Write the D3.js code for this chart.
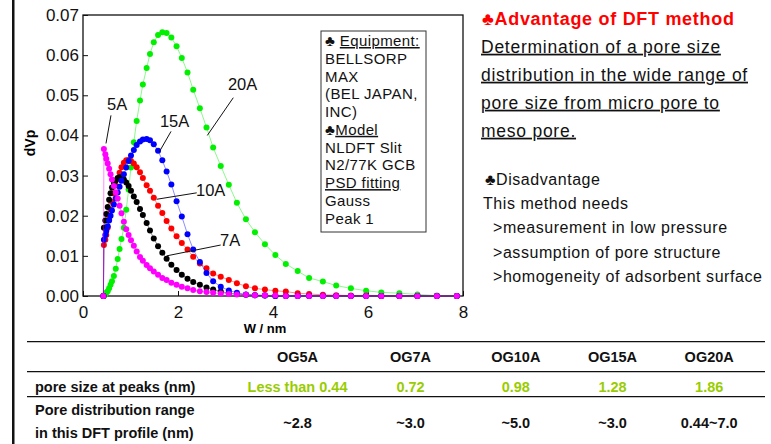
<!DOCTYPE html>
<html>
<head>
<meta charset="utf-8">
<script src="https://cdn.jsdelivr.net/npm/d3@7"></script>
<style>
body { margin: 0; background: #fff; }
svg { display: block; font-family: "Liberation Sans", Arial, sans-serif; }
</style>
</head>
<body>
<svg id="chart"></svg>
<script>
const svgWidth = 771;
const svgHeight = 444;

// pore width grid (nm), shared by all samples
const poreWidth = [0.43, 0.44, 0.47, 0.49, 0.52, 0.55, 0.58, 0.61, 0.65, 0.69, 0.73, 0.77, 0.81, 0.86, 0.91, 0.96,
	1.01, 1.07, 1.13, 1.20, 1.26, 1.34, 1.41, 1.49, 1.58, 1.67, 1.76, 1.86, 1.97, 2.08, 2.20, 2.32, 2.46, 2.60,
	2.74, 2.90, 3.07, 3.24, 3.43, 3.62, 3.83, 4.05, 4.27, 4.52, 4.76, 5.05, 5.33, 5.64, 5.96, 6.28, 6.66, 7.04, 7.45, 7.87];

// dVp for each sample
const og20A = [0, 0.0000, 0.0004, 0.0008, 0.0012, 0.0019, 0.0028, 0.0037, 0.0050, 0.0068, 0.0092, 0.0117, 0.0142, 0.0170,
	0.0215, 0.0265, 0.0320, 0.0383, 0.0436, 0.0487, 0.0527, 0.0568, 0.0603, 0.0632, 0.0650, 0.0657, 0.0655, 0.0644,
	0.0622, 0.0593, 0.0557, 0.0514, 0.0468, 0.0420, 0.0370, 0.0324, 0.0277, 0.0232, 0.0191, 0.0159, 0.0129, 0.0102,
	0.0080, 0.0062, 0.0045, 0.0036, 0.0026, 0.0019, 0.0013, 0.0009, 0.0007, 0.0004, 0.0001, 0.0000];
const og15A = [0, 0.0140, 0.0152, 0.0162, 0.0174, 0.0188, 0.0200, 0.0213, 0.0228, 0.0243, 0.0258, 0.0272, 0.0287, 0.0303,
	0.0320, 0.0336, 0.0350, 0.0364, 0.0376, 0.0385, 0.0390, 0.0391, 0.0388, 0.0378, 0.0362, 0.0338, 0.0310, 0.0278,
	0.0236, 0.0198, 0.0154, 0.0116, 0.0085, 0.0057, 0.0037, 0.0023, 0.0014, 0.0008, 0.0004, 0.0002, 0.0001, 0,
	0, 0, 0, 0, 0, 0, 0, 0, 0, 0, 0, 0];
const og10A = [0, 0.0127, 0.0140, 0.0152, 0.0170, 0.0192, 0.0215, 0.0234, 0.0256, 0.0275, 0.0292, 0.0307, 0.0321, 0.0332,
	0.0338, 0.0339, 0.0336, 0.0330, 0.0321, 0.0308, 0.0294, 0.0276, 0.0262, 0.0245, 0.0225, 0.0207, 0.0187, 0.0168,
	0.0149, 0.0132, 0.0116, 0.0098, 0.0081, 0.0069, 0.0056, 0.0048, 0.0040, 0.0032, 0.0024, 0.0019, 0.0016, 0.0013,
	0.0011, 0.0007, 0.0005, 0.0003, 0.0002, 0.0001, 0.0001, 0, 0, 0, 0, 0];
const og7A = [0, 0.0170, 0.0188, 0.0204, 0.0222, 0.0240, 0.0256, 0.0270, 0.0282, 0.0288, 0.0294, 0.0296, 0.0295, 0.0290,
	0.0283, 0.0274, 0.0262, 0.0248, 0.0234, 0.0217, 0.0202, 0.0182, 0.0163, 0.0143, 0.0124, 0.0108, 0.0093, 0.0078,
	0.0065, 0.0053, 0.0043, 0.0035, 0.0028, 0.0021, 0.0016, 0.0011, 0.0007, 0.0005, 0.0003, 0.0002, 0.0001, 0,
	0, 0, 0, 0, 0, 0, 0, 0, 0, 0, 0, 0];
const og5A = [0, 0.0366, 0.0353, 0.0342, 0.0330, 0.0317, 0.0303, 0.0290, 0.0274, 0.0258, 0.0243, 0.0225, 0.0206, 0.0185,
	0.0166, 0.0152, 0.0139, 0.0125, 0.0111, 0.0097, 0.0088, 0.0077, 0.0069, 0.0061, 0.0053, 0.0045, 0.0040, 0.0033,
	0.0028, 0.0023, 0.0019, 0.0015, 0.0012, 0.0010, 0.0008, 0.0006, 0.0005, 0.0004, 0.0003, 0.0002, 0.0002, 0.0001,
	0, 0, 0, 0, 0, 0, 0, 0, 0, 0, 0, 0];

const xTicks = [0, 2, 4, 6, 8];
const yTicks = [0, 0.01, 0.02, 0.03, 0.04, 0.05, 0.06, 0.07];

// series in drawing order
const series = [
	{name: "20A", values: og20A, color: "#00f000"},
	{name: "10A", values: og10A, color: "#ff0000"},
	{name: "7A", values: og7A, color: "#000000"},
	{name: "15A", values: og15A, color: "#0000ff"},
	{name: "5A", values: og5A, color: "#ff00ff"}
];

// curve labels: text position and leader line, in data units
const curveLabels = [
	{text: "20A", x: 3.05, y: 0.0512, x1: 3.164, y1: 0.0494, x2: 2.617, y2: 0.0400},
	{text: "15A", x: 1.62, y: 0.0420, x1: 1.853, y1: 0.0410, x2: 1.606, y2: 0.0359},
	{text: "5A", x: 0.505, y: 0.0463, x1: 0.589, y1: 0.0450, x2: 0.484, y2: 0.0380},
	{text: "10A", x: 2.379, y: 0.0249, x1: 2.394, y1: 0.0257, x2: 1.552, y2: 0.0241},
	{text: "7A", x: 2.884, y: 0.0124, x1: 2.899, y1: 0.0127, x2: 1.762, y2: 0.0100}
];

const infoLines = [
	{pre: "\u2663 ", u: "Equipment:"},
	{pre: "BELLSORP"},
	{pre: "MAX"},
	{pre: "(BEL JAPAN,"},
	{pre: "INC)"},
	{pre: "\u2663", u: "Model"},
	{pre: "NLDFT Slit"},
	{pre: "N2/77K GCB"},
	{pre: "", u: "PSD fitting"},
	{pre: "Gauss"},
	{pre: "Peak 1"}
];

const advantageLines = ["Determination of a pore size", "distribution in the wide range of",
	"pore size from micro pore to", "meso pore."];
const disadvantageLines = ["\u2663Disadvantage", "This method needs", "  >measurement in low pressure",
	"  >assumption of pore structure", "  >homogeneity of adsorbent surface"];

const tableHeaders = ["OG5A", "OG7A", "OG10A", "OG15A", "OG20A"];
const peakSizes = ["Less than 0.44", "0.72", "0.98", "1.28", "1.86"];
const poreRanges = ["~2.8", "~3.0", "~5.0", "~3.0", "0.44~7.0"];

const svg = d3.select("#chart")
	.attr("width", svgWidth)
	.attr("height", svgHeight);

svg.append("rect").attr("width", svgWidth).attr("height", svgHeight).attr("fill", "#fff");

// left slide bar
svg.append("rect")
	.attr("x", 12).attr("y", 0)
	.attr("width", 2.5).attr("height", svgHeight)
	.attr("fill", "#111");

const plot = {left: 83, right: 463, top: 15, bottom: 296};

const xScale = d3.scaleLinear().domain([0, 8]).range([plot.left, plot.right]);
const yScale = d3.scaleLinear().domain([0, 0.07]).range([plot.bottom, plot.top]);

const xAxis = d3.axisBottom(xScale).tickValues(xTicks).tickSize(-5).tickSizeOuter(0).tickPadding(10);
const yAxis = d3.axisLeft(yScale).tickValues(yTicks).tickSize(-5).tickSizeOuter(0).tickPadding(4)
	.tickFormat(d3.format(".2f"));

const gx = svg.append("g")
	.attr("transform", `translate(0, ${plot.bottom})`)
	.call(xAxis);
const gy = svg.append("g")
	.attr("transform", `translate(${plot.left}, 0)`)
	.call(yAxis);

[gx, gy].forEach(g => {
	g.select(".domain").remove();
	g.selectAll("text").attr("font-size", 17).attr("fill", "#111")
		.attr("font-family", "\"Liberation Sans\", Arial, sans-serif");
	g.selectAll("line").attr("stroke", "#111");
});

// frame
svg.append("rect")
	.attr("x", plot.left).attr("y", plot.top)
	.attr("width", plot.right - plot.left).attr("height", plot.bottom - plot.top)
	.attr("fill", "none").attr("stroke", "#111").attr("stroke-width", 1.3);

// axis titles
svg.append("text")
	.text("dVp")
	.attr("transform", "rotate(-90)")
	.attr("x", -143).attr("y", 35)
	.attr("text-anchor", "middle")
	.attr("font-size", 14).attr("font-weight", "bold");

svg.append("text")
	.text("W / nm")
	.attr("x", 265).attr("y", 333)
	.attr("text-anchor", "middle")
	.attr("font-size", 13).attr("font-weight", "bold");

// info box
svg.append("rect")
	.attr("x", 321).attr("y", 31)
	.attr("width", 105).attr("height", 201)
	.attr("fill", "#fff").attr("stroke", "#333").attr("stroke-width", 1);

infoLines.forEach((l, i) => {
	let t = svg.append("text")
		.attr("x", 325).attr("y", 46 + i * 17.76)
		.attr("font-size", 15).attr("letter-spacing", 0.4).attr("fill", "#111");
	t.append("tspan").text(l.pre);
	if (l.u) t.append("tspan").text(l.u).style("text-decoration", "underline");
});

// curves
const line = d3.line()
	.x(d => xScale(d.x))
	.y(d => yScale(d.y));

series.forEach(s => {
	let pts = poreWidth.map((x, i) => ({x: x, y: s.values[i]}));
	let g = svg.append("g");
	g.append("path")
		.datum(pts)
		.attr("d", line)
		.attr("fill", "none")
		.attr("stroke", s.color)
		.attr("stroke-opacity", 0.45)
		.attr("stroke-width", 1);
	g.selectAll("circle")
		.data(pts)
		.enter()
		.append("circle")
			.attr("cx", d => xScale(d.x))
			.attr("cy", d => yScale(d.y))
			.attr("r", 3)
			.attr("fill", s.color);
});

// curve labels
curveLabels.forEach(c => {
	svg.append("line")
		.attr("x1", xScale(c.x1)).attr("y1", yScale(c.y1))
		.attr("x2", xScale(c.x2)).attr("y2", yScale(c.y2))
		.attr("stroke", "#111").attr("stroke-width", 1);
	svg.append("text")
		.text(c.text)
		.attr("x", xScale(c.x)).attr("y", yScale(c.y))
		.attr("font-size", 16.5).attr("fill", "#111");
});

// right hand notes
svg.append("text")
	.text("\u2663Advantage of DFT method")
	.attr("x", 482).attr("y", 25)
	.attr("font-size", 18).attr("font-weight", "bold").attr("fill", "#ff0000")
	.attr("letter-spacing", 0.7);

advantageLines.forEach((l, i) => {
	svg.append("text")
		.text(l)
		.attr("x", 481).attr("y", 52.7 + i * 28)
		.attr("font-size", 17.5).attr("fill", "#111")
		.attr("letter-spacing", 0.75)
		.style("text-decoration", "underline");
});

disadvantageLines.forEach((l, i) => {
	svg.append("text")
		.text(l)
		.attr("x", i == 0 ? 485 : 483).attr("y", 185 + i * 24.2)
		.attr("font-size", 16).attr("fill", "#111")
		.attr("letter-spacing", 0.55)
		.style("white-space", "pre");
});

// table
const colX = [297.5, 410.5, 515.8, 612.5, 709.2];
[341.7, 371.7, 396.7].forEach(y => {
	svg.append("line")
		.attr("x1", 27).attr("x2", 765)
		.attr("y1", y).attr("y2", y)
		.attr("stroke", "#111").attr("stroke-width", 1.3);
});

let tbl = svg.append("g").attr("font-weight", "bold").attr("font-size", 14.5);

tbl.selectAll("text.head")
	.data(tableHeaders)
	.enter()
	.append("text")
		.attr("class", "head")
		.text(d => d)
		.attr("x", (d, i) => colX[i]).attr("y", 362.3)
		.attr("text-anchor", "middle").attr("fill", "#111");

tbl.append("text").text("pore size at peaks (nm)")
	.attr("x", 35).attr("y", 391.7).attr("fill", "#111");

tbl.selectAll("text.peak")
	.data(peakSizes)
	.enter()
	.append("text")
		.attr("class", "peak")
		.text(d => d)
		.attr("x", (d, i) => colX[i]).attr("y", 391.7)
		.attr("text-anchor", "middle").attr("fill", "#99cc00");

tbl.append("text").text("Pore distribution range")
	.attr("x", 35).attr("y", 415).attr("fill", "#111");
tbl.append("text").text("in this DFT profile (nm)")
	.attr("x", 35).attr("y", 438.3).attr("fill", "#111");

tbl.selectAll("text.range")
	.data(poreRanges)
	.enter()
	.append("text")
		.attr("class", "range")
		.text(d => d)
		.attr("x", (d, i) => colX[i]).attr("y", 428.3)
		.attr("text-anchor", "middle").attr("fill", "#111");
</script>
</body>
</html>
